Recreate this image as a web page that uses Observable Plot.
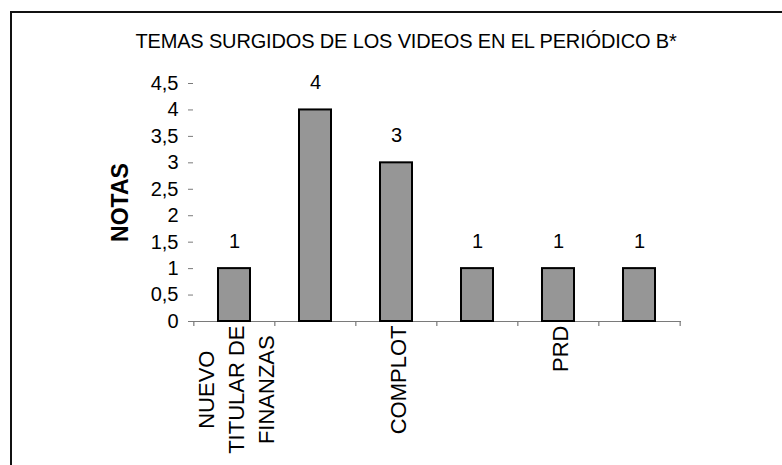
<!DOCTYPE html>
<html>
<head>
<meta charset="utf-8">
<script src="https://cdn.jsdelivr.net/npm/d3@7"></script>
<script src="https://cdn.jsdelivr.net/npm/@observablehq/plot@0.6"></script>
<style>
  html, body { margin: 0; padding: 0; background: #fff; overflow: hidden; }
  #wrap { position: relative; width: 782px; height: 465px; font-family: "Liberation Sans", Arial, sans-serif; }
  #frame { position: absolute; left: 10px; top: 11px; width: 800px; height: 500px; border-left: 2px solid #111; border-top: 2px solid #111; box-sizing: border-box; }
  #title { position: absolute; left: 30px; width: 752px; top: 31px; text-align: center; font-size: 20px; line-height: 21px; color: #000; letter-spacing: -0.15px; white-space: nowrap; }
  #chart { position: absolute; left: 0; top: 0; }
</style>
</head>
<body>
<div id="wrap">
  <div id="frame"></div>
  <div id="title">TEMAS SURGIDOS DE LOS VIDEOS EN EL PERIÓDICO B*</div>
  <div id="chart"></div>
</div>
<script>
// Data
const temaIds = [1, 2, 3, 4, 5, 6];
const temaLabels = ["NUEVO\nTITULAR DE\nFINANZAS", "", "COMPLOT", "", "PRD", ""];
const notas = [1, 4, 3, 1, 1, 1];
const yTicks = [0, 0.5, 1, 1.5, 2, 2.5, 3, 3.5, 4, 4.5];
const yLabel = "NOTAS";

const data = temaIds.map((id, i) => ({id, label: temaLabels[i], value: notas[i]}));

const W = 782, H = 465;
const mL = 193, mR = 101, mT = 83, mB = 144;
const step = (W - mL - mR) / temaIds.length;

const chart = Plot.plot({
  width: W,
  height: H,
  marginLeft: mL,
  marginRight: mR,
  marginTop: mT,
  marginBottom: mB,
  style: {fontFamily: '"Liberation Sans", Arial, sans-serif', background: "transparent", overflow: "visible"},
  x: {type: "band", domain: temaIds, paddingInner: 0.6, paddingOuter: 0.3, axis: null},
  y: {domain: [0, 4.5], axis: null},
  marks: [
    // x axis line
    Plot.ruleY([0], {stroke: "#7a7a7a", strokeWidth: 1.2}),
    // y axis with ticks and comma decimals
    Plot.axisY(yTicks, {
      anchor: "left", tickSize: 5, tickPadding: 10, line: true,
      stroke: "#7a7a7a", fill: "#000", fontSize: 20,
      tickFormat: d => String(d).replace(".", ","), label: null
    }),
    // x axis category labels (rotated)
    Plot.axisX({
      anchor: "bottom", tickSize: 0, tickPadding: 4, tickRotate: -90,
      fontSize: 22, fill: "#000", lineHeight: 1.35,
      textAnchor: "end", lineAnchor: "middle",
      tickFormat: d => temaLabels[temaIds.indexOf(d)], label: null
    }),
    // boundary ticks on x axis
    Plot.tickX(temaIds, {x: d => d, dx: -step / 2, stroke: "#7a7a7a", strokeWidth: 1.2, insetTop: H - mT - mB, insetBottom: -5}),
    Plot.tickX(temaIds.slice(-1), {x: d => d, dx: step / 2, stroke: "#7a7a7a", strokeWidth: 1.2, insetTop: H - mT - mB, insetBottom: -5}),
    // bars
    Plot.barY(data, {x: "id", y: "value", fill: "#969696", stroke: "#000", strokeWidth: 2}),
    // value labels
    Plot.text(data, {x: "id", y: "value", text: d => String(d.value), dy: -27, fontSize: 20, fill: "#000"}),
    // y axis title
    Plot.text([yLabel], {frameAnchor: "left", textAnchor: "middle", text: d => d, rotate: -90, dx: -73, fontSize: 23, fontWeight: "bold", fill: "#000"})
  ]
});
document.getElementById("chart").appendChild(chart);

// Center the lines of multi-line rotated category labels (as in the original),
// keeping the block's end at the axis.
chart.querySelectorAll("text").forEach(t => {
  const spans = t.querySelectorAll("tspan");
  if (spans.length < 2) return;
  let L = 0;
  spans.forEach(s => { L = Math.max(L, s.getComputedTextLength()); });
  t.setAttribute("text-anchor", "middle");
  t.style.textAnchor = "middle";
  spans.forEach(s => { s.setAttribute("x", String(-L / 2)); s.style.textAnchor = "middle"; });
});
</script>
</body>
</html>
